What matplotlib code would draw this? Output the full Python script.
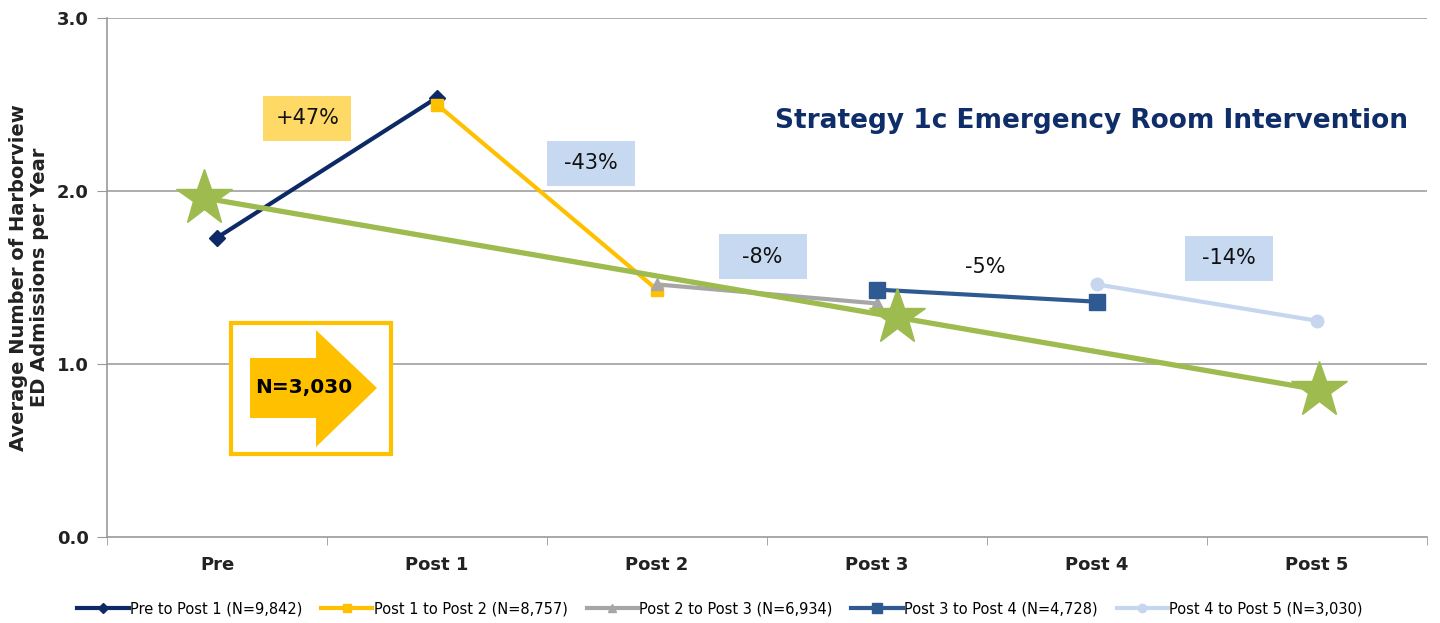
import matplotlib
matplotlib.use("Agg")
import matplotlib.pyplot as plt
from matplotlib.patches import Rectangle, Polygon
from matplotlib.lines import Line2D

categories = ["Pre", "Post 1", "Post 2", "Post 3", "Post 4", "Post 5"]

s1_x = [0, 1]; s1_y = [1.73, 2.54]
s2_x = [1, 2]; s2_y = [2.50, 1.43]
s3_x = [2, 3]; s3_y = [1.46, 1.35]
s4_x = [3, 4]; s4_y = [1.43, 1.36]
s5_x = [4, 5]; s5_y = [1.46, 1.25]
series_labels = ["Pre to Post 1 (N=9,842)", "Post 1 to Post 2 (N=8,757)",
                 "Post 2 to Post 3 (N=6,934)", "Post 3 to Post 4 (N=4,728)",
                 "Post 4 to Post 5 (N=3,030)"]

trend_x = [-0.06, 3.09, 5.01]
trend_y = [1.96, 1.27, 0.85]

pct_labels = ["+47%", "-43%", "-8%", "-5%", "-14%"]
pct_x = [0.41, 1.70, 2.48, 3.49, 4.60]
pct_y = [2.42, 2.16, 1.62, 1.56, 1.61]
pct_box = ["#FFD966", "#C6D9F1", "#C6D9F1", None, "#C6D9F1"]

W, H = 1440, 623
fig = plt.figure(figsize=(W/100, H/100), dpi=100)
ax = fig.add_axes([107/W, 1-537/H, 1320/W, 519/H])

navy = "#0D2A66"
yellow = "#FFC000"
gray = "#A6A6A6"
mblue = "#2F5A91"
lblue = "#C5D6EE"
green = "#9DBB4E"

ax.set_xlim(-0.5, 5.5)
ax.set_ylim(0, 3.0)
ax.set_yticks([0, 1, 2, 3])
ax.set_yticklabels(["0.0", "1.0", "2.0", "3.0"], fontsize=13, fontweight="bold", color="#222222")
ax.set_xticks(range(6))
ax.set_xticklabels(categories, fontsize=13, fontweight="bold", color="#222222")
ax.set_xticks([i - 0.5 for i in range(7)], minor=True)
ax.tick_params(axis="x", which="major", length=0, pad=14)
ax.tick_params(axis="x", which="minor", length=6, color="#999999", direction="out")
ax.tick_params(axis="y", length=7, color="#999999", pad=6)
for y in [1, 2, 3]:
    ax.axhline(y, color="#A0A0A0", lw=1.2, zorder=0)
for s in ["top", "right"]:
    ax.spines[s].set_visible(False)
for s in ["left", "bottom"]:
    ax.spines[s].set_color("#999999")
    ax.spines[s].set_linewidth(1.2)

ax.set_ylabel("Average Number of Harborview\nED Admissions per Year", fontsize=14,
              fontweight="bold", color="#222222", labelpad=6, linespacing=1.1)

l1, = ax.plot(s1_x, s1_y, color=navy, lw=3, marker="D", ms=8, zorder=3)
l2, = ax.plot(s2_x, s2_y, color=yellow, lw=3, marker="s", ms=9, zorder=3)
l3, = ax.plot(s3_x, s3_y, color=gray, lw=3, marker="^", ms=9, zorder=3)
l4, = ax.plot(s4_x, s4_y, color=mblue, lw=3, marker="s", ms=12, zorder=3)
l5, = ax.plot(s5_x, s5_y, color=lblue, lw=3, marker="o", ms=9, zorder=3)

ax.plot(trend_x, trend_y, color=green, lw=3.8, zorder=4)
ax.plot(trend_x, trend_y, ls="none", marker="*", ms=42, color=green, zorder=5)

bw, bh = 0.40, 0.26
for lab, x, y, c in zip(pct_labels, pct_x, pct_y, pct_box):
    if c is not None:
        ax.add_patch(Rectangle((x - bw/2, y - bh/2), bw, bh, facecolor=c, edgecolor="none", zorder=6))
    ax.text(x, y, lab, ha="center", va="center", fontsize=15, color="#111111", zorder=7)

def fp(x, y):
    return (x / W, 1 - y / H)

x0, y0 = fp(231, 454)
x1, y1 = fp(391, 323)
fig.patches.append(Rectangle((x0, y0), x1 - x0, y1 - y0, transform=fig.transFigure,
                             facecolor="white", edgecolor=yellow, lw=3, zorder=8))
arrow_pts = [fp(250, 358), fp(316, 358), fp(316, 330), fp(377, 388),
             fp(316, 447), fp(316, 418), fp(250, 418)]
fig.patches.append(Polygon(arrow_pts, closed=True, transform=fig.transFigure,
                           facecolor=yellow, edgecolor="none", zorder=9))
fig.text(*fp(304, 387), "N=3,030", ha="center", va="center", fontsize=14.5,
         fontweight="bold", color="black", zorder=10)

fig.text(*fp(1408, 121), "Strategy 1c Emergency Room Intervention", ha="right", va="center",
         fontsize=19, fontweight="bold", color="#0F2D69")

handles = [
    Line2D([], [], color=navy, lw=3, marker="D", ms=5),
    Line2D([], [], color=yellow, lw=3, marker="s", ms=6),
    Line2D([], [], color=gray, lw=3, marker="^", ms=6),
    Line2D([], [], color=mblue, lw=3, marker="s", ms=7),
    Line2D([], [], color=lblue, lw=3, marker="o", ms=6),
]
fig.legend(handles, series_labels, loc="center", bbox_to_anchor=(0.5, 1 - 609/H), ncol=5,
           frameon=False, fontsize=10.5, handlelength=3.5, handletextpad=0.1, columnspacing=1.3)

fig.savefig("out.png", dpi=100)
